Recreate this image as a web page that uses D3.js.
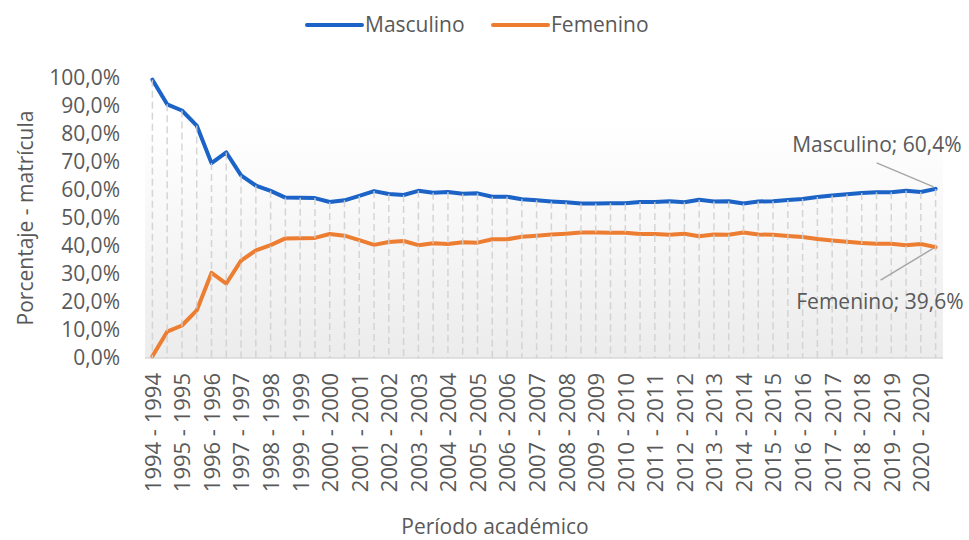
<!DOCTYPE html>
<html>
<head>
<meta charset="utf-8">
<script src="https://cdn.jsdelivr.net/npm/d3@7/dist/d3.min.js"></script>
<style>
  body { margin: 0; background: #fff; }
  svg { display: block; font-family: "Open Sans", "Noto Sans", sans-serif; }
</style>
</head>
<body>
<svg width="969" height="540"></svg>
<script>
// ---- data (two semesters per year, 1994 - 2020) ----
const years = d3.range(1994, 2021);
const periods = years.flatMap(y => [`${y}-1`, `${y}-2`]);
const tickLabels = years.map(y => `${y} - ${y}`);

const masculino = [
  99.4, 90.6, 88.4, 83.0, 69.6, 73.4, 65.2, 61.6, 59.7, 57.3,
  57.2, 57.1, 55.7, 56.3, 57.9, 59.6, 58.6, 58.2, 59.7, 59.0,
  59.3, 58.7, 58.8, 57.6, 57.6, 56.7, 56.3, 55.9, 55.6, 55.2,
  55.2, 55.3, 55.3, 55.7, 55.7, 56.0, 55.6, 56.5, 55.9, 56.0,
  55.2, 55.9, 56.0, 56.4, 56.8, 57.5, 58.0, 58.5, 58.9, 59.2,
  59.2, 59.7, 59.3, 60.4
];
const femenino = [
  0.6, 9.4, 11.6, 17.0, 30.4, 26.6, 34.8, 38.4, 40.3, 42.7,
  42.8, 42.9, 44.3, 43.7, 42.1, 40.4, 41.4, 41.8, 40.3, 41.0,
  40.7, 41.3, 41.2, 42.4, 42.4, 43.3, 43.7, 44.1, 44.4, 44.8,
  44.8, 44.7, 44.7, 44.3, 44.3, 44.0, 44.4, 43.5, 44.1, 44.0,
  44.8, 44.1, 44.0, 43.6, 43.2, 42.5, 42.0, 41.5, 41.1, 40.8,
  40.8, 40.3, 40.7, 39.6
];

const series = [
  { name: "Masculino", values: masculino, color: "#1b63c6" },
  { name: "Femenino",  values: femenino,  color: "#ed7d31" }
];

const textColor = "#595959";
const svg = d3.select("svg");

const plot = { left: 145, right: 943, top: 78, bottom: 358 };

const x = d3.scalePoint().domain(d3.range(periods.length))
  .range([plot.left, plot.right]).padding(0.5);
const y = d3.scaleLinear().domain([0, 100]).range([plot.bottom, plot.top]);

// plot background gradient
const grad = svg.append("defs").append("linearGradient")
  .attr("id", "bg").attr("x1", 0).attr("y1", 0).attr("x2", 0).attr("y2", 1);
grad.append("stop").attr("offset", "0%").attr("stop-color", "#ffffff");
grad.append("stop").attr("offset", "100%").attr("stop-color", "#ececec");

svg.append("rect")
  .attr("x", plot.left).attr("y", y(83))
  .attr("width", plot.right - plot.left).attr("height", plot.bottom - y(83))
  .attr("fill", "url(#bg)");

// x axis baseline
svg.append("line")
  .attr("x1", plot.left).attr("x2", plot.right)
  .attr("y1", plot.bottom).attr("y2", plot.bottom)
  .attr("stroke", "#d9d9d9").attr("stroke-width", 1.5);

// y axis
const yAxis = svg.append("g")
  .attr("transform", `translate(${plot.left},0)`)
  .call(d3.axisLeft(y).tickValues(d3.range(0, 101, 10)).tickSize(0).tickPadding(25)
    .tickFormat(d => d.toFixed(1).replace(".", ",") + "%"));
yAxis.select(".domain").remove();
yAxis.selectAll("text").attr("fill", textColor).style("font-size", "21px")
  .style("font-family", "Open Sans");

// x axis
const xAxis = svg.append("g")
  .attr("transform", `translate(0,${plot.bottom})`)
  .call(d3.axisBottom(x).tickValues(d3.range(0, periods.length, 2)).tickSize(0)
    .tickFormat(i => tickLabels[i / 2]));
xAxis.select(".domain").remove();
xAxis.selectAll("text")
  .attr("transform", "rotate(-90)")
  .attr("x", -15).attr("y", 0).attr("dy", "0.36em")
  .attr("text-anchor", "end")
  .attr("fill", textColor).style("font-size", "22px")
  .style("font-family", "Open Sans");

// lines
const line = d3.line().x((d, i) => x(i)).y(d => y(d));
series.forEach(s => {
  svg.append("path")
    .attr("d", line(s.values))
    .attr("fill", "none")
    .attr("stroke", s.color)
    .attr("stroke-width", 4)
    .attr("stroke-linejoin", "round")
    .attr("stroke-linecap", "round");
});

// drop lines
svg.append("g").selectAll("line")
  .data(masculino)
  .join("line")
  .attr("x1", (d, i) => x(i)).attr("x2", (d, i) => x(i))
  .attr("y1", (d, i) => y(Math.max(d, femenino[i])))
  .attr("y2", plot.bottom)
  .attr("stroke", "#cfcfcf")
  .attr("stroke-opacity", 0.85)
  .attr("stroke-width", 1.5)
  .attr("stroke-dasharray", "7,4");

// data labels on last point
const last = periods.length - 1;
const px = x(last);
const pyM = y(masculino[last]), pyF = y(femenino[last]);
const fmt = v => v.toFixed(1).replace(".", ",") + "%";

svg.append("line")
  .attr("x1", px - 59).attr("y1", pyM - 26).attr("x2", px - 2).attr("y2", pyM - 2)
  .attr("stroke", "#a6a6a6").attr("stroke-width", 1.5);
svg.append("line")
  .attr("x1", px - 55).attr("y1", pyF + 33).attr("x2", px - 2).attr("y2", pyF + 1)
  .attr("stroke", "#a6a6a6").attr("stroke-width", 1.5);

svg.append("text")
  .attr("x", px + 26).attr("y", pyM - 37)
  .attr("text-anchor", "end")
  .attr("fill", textColor).style("font-size", "21px")
  .text(`Masculino; ${fmt(masculino[last])}`);
svg.append("text")
  .attr("x", px + 28).attr("y", pyF + 62)
  .attr("text-anchor", "end")
  .attr("fill", textColor).style("font-size", "21px")
  .text(`Femenino; ${fmt(femenino[last])}`);

// axis titles
svg.append("text")
  .attr("transform", `translate(33,${(plot.top + plot.bottom) / 2}) rotate(-90)`)
  .attr("text-anchor", "middle")
  .attr("fill", textColor).style("font-size", "21px")
  .text("Porcentaje - matrícula");
svg.append("text")
  .attr("x", 495).attr("y", 534)
  .attr("text-anchor", "middle")
  .attr("fill", textColor).style("font-size", "21px")
  .text("Período académico");

// legend
const legendX = [307, 493];
const legend = svg.append("g").selectAll("g")
  .data(series).join("g")
  .attr("transform", (d, i) => `translate(${legendX[i]},25)`);
legend.append("line")
  .attr("x1", 0).attr("x2", 55).attr("y1", 0).attr("y2", 0)
  .attr("stroke", d => d.color).attr("stroke-width", 4)
  .attr("stroke-linecap", "round");
legend.append("text")
  .attr("x", 58).attr("y", 0).attr("dy", "0.35em")
  .attr("fill", textColor).style("font-size", "21px")
  .text(d => d.name);
</script>
</body>
</html>
